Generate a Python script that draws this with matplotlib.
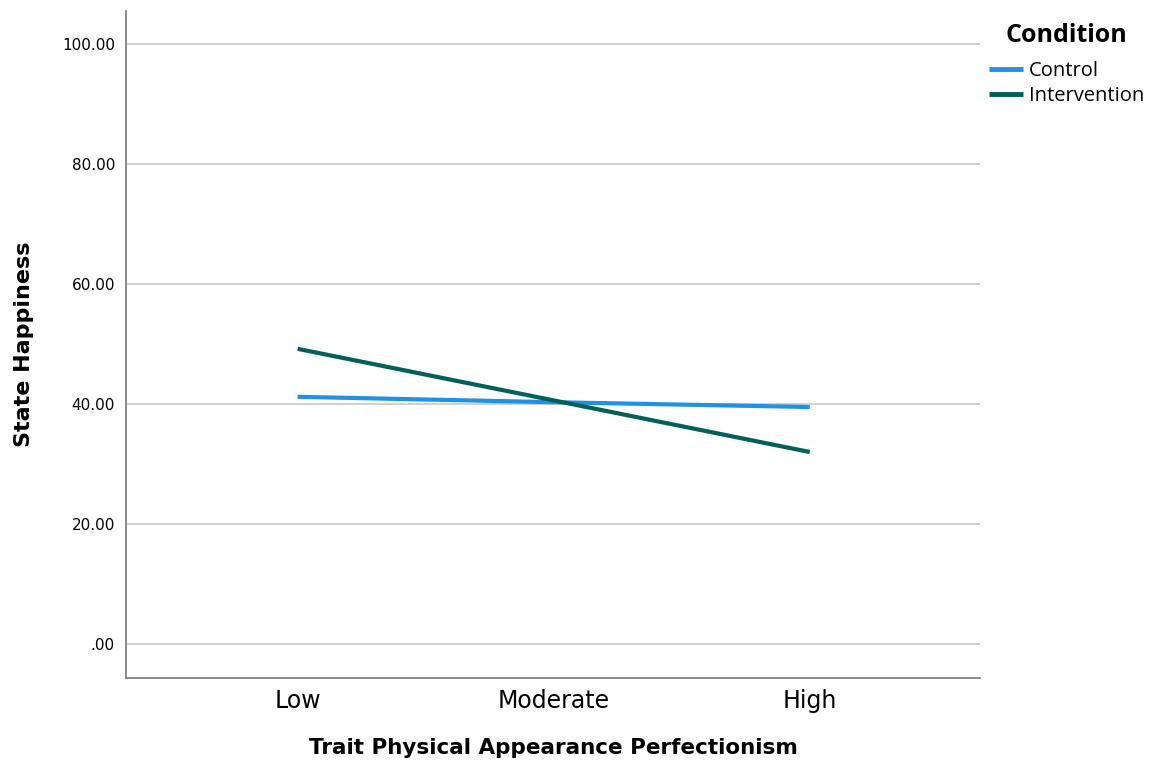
import matplotlib.pyplot as plt
import numpy as np

levels = ["Low", "Moderate", "High"]
control = [41.2, 40.3, 39.5]
intervention = [49.2, 40.6, 32.0]
yticks = [0, 20, 40, 60, 80, 100]

fig = plt.figure(figsize=(11.5, 7.65), dpi=100)
ax = fig.add_axes([0.1096, 0.1137, 0.7426, 0.8719])

x = np.arange(len(levels))
ax.plot(x, control, color="#1f92e6", lw=3.0, label="Control", solid_capstyle="butt")
ax.plot(x, intervention, color="#005f58", lw=3.0, label="Intervention", solid_capstyle="butt")

ax.set_xlim(-0.67, 2.665)
ax.set_ylim(-5.67, 105.5)
ax.set_yticks(yticks)
ax.set_yticklabels([f"{v:.2f}" if v else ".00" for v in yticks], fontsize=11)
ax.set_xticks(x)
ax.set_xticklabels(levels, fontsize=17)
ax.tick_params(axis="both", length=0)
ax.tick_params(axis="y", pad=8)
ax.tick_params(axis="x", pad=8)
ax.grid(axis="y", color="#c8c8c8", lw=1.2)
ax.set_axisbelow(True)

for s in ["top", "right"]:
    ax.spines[s].set_visible(False)
for s in ["left", "bottom"]:
    ax.spines[s].set_color("#777777")
    ax.spines[s].set_linewidth(1.2)

ax.set_xlabel("Trait Physical Appearance Perfectionism", fontsize=15.5, fontweight="bold", labelpad=18)
ax.set_ylabel("State Happiness", fontsize=16, fontweight="bold", labelpad=20)

leg = ax.legend(title="Condition", loc="upper left", bbox_to_anchor=(0.996, 1.0),
                frameon=False, prop={"family": "Open Sans", "size": 14.5},
                title_fontproperties={"family": "Open Sans", "weight": "bold", "size": 18},
                handlelength=1.7, handleheight=0.5, handletextpad=0.3, labelspacing=0.25,
                borderaxespad=0.3, borderpad=0.3)
leg._legend_box.sep = 9
for line in leg.get_lines():
    line.set_linewidth(3.5)

fig.savefig("out.png", dpi=100)
